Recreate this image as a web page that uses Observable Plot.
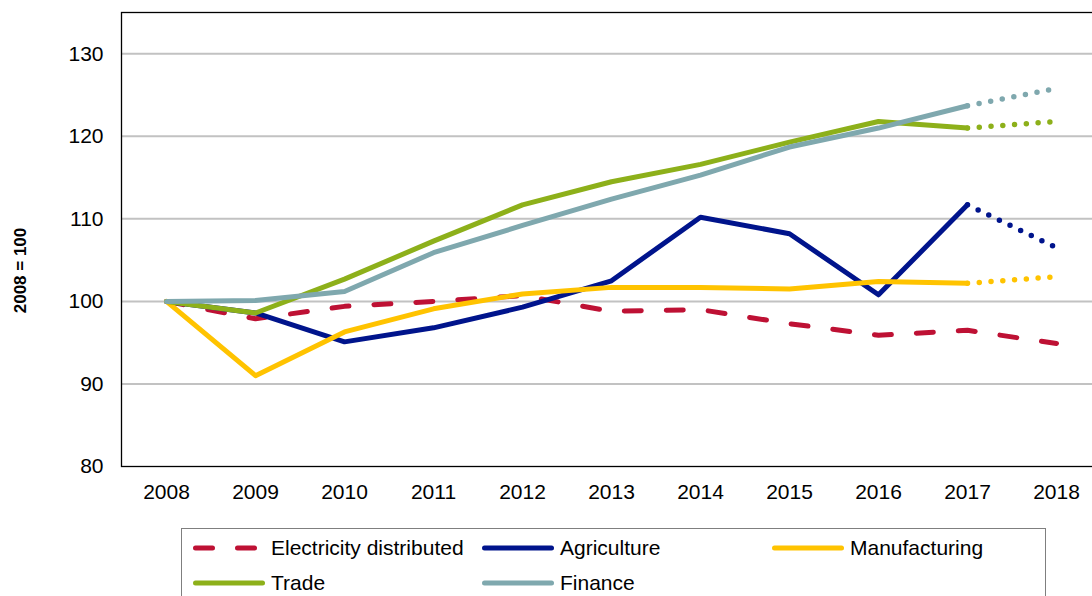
<!DOCTYPE html>
<html>
<head>
<meta charset="utf-8">
<script src="https://cdn.jsdelivr.net/npm/d3@7"></script>
<script src="https://cdn.jsdelivr.net/npm/@observablehq/plot@0.6"></script>
<style>
  html, body { margin: 0; padding: 0; background: #fff; overflow: hidden; }
  body { width: 1092px; height: 596px; position: relative; font-family: "Liberation Sans", Arial, sans-serif; }
  #legend { position: absolute; left: 181px; top: 528px; width: 865px; height: 90px;
            border: 1px solid #7f7f7f; box-sizing: border-box; padding: 1px 0 0 11px;
            display: grid; grid-template-columns: 289px 290px 260px; grid-auto-rows: 35px; }
  .item { display: flex; align-items: center; font-size: 21px; color: #000; white-space: nowrap; }
  .item svg { margin-right: 6px; flex: none; }
</style>
</head>
<body>
<div id="chart"></div>
<div id="legend"></div>
<script>
const years = [2008, 2009, 2010, 2011, 2012, 2013, 2014, 2015, 2016, 2017, 2018];
const lastActual = 2017;
const seriesNames = ["Electricity distributed", "Agriculture", "Manufacturing", "Trade", "Finance"];
const seriesColors = ["#BE1134", "#00148C", "#FFC300", "#8DB01A", "#7FA8AE"];
const electricity = [100, 97.9, 99.4, 100.0, 100.7, 98.8, 99.0, 97.3, 95.9, 96.5, 94.9];
const agriculture = [100, 98.6, 95.1, 96.8, 99.3, 102.5, 110.2, 108.2, 100.8, 111.7, 106.5];
const manufacturing = [100, 91.0, 96.3, 99.1, 100.9, 101.7, 101.7, 101.5, 102.4, 102.2, 103.0];
const trade = [100, 98.6, 102.7, 107.3, 111.7, 114.5, 116.6, 119.3, 121.8, 121.0, 121.8];
const finance = [100, 100.1, 101.2, 105.9, 109.2, 112.4, 115.3, 118.7, 121.0, 123.7, 125.8];
const yTicks = [80, 90, 100, 110, 120, 130];
const yTitle = "2008 = 100";

const valueArrays = [electricity, agriculture, manufacturing, trade, finance];
const rows = seriesNames.flatMap((name, s) =>
  years.map((year, i) => ({series: name, year, value: valueArrays[s][i]})));
const color = Object.fromEntries(seriesNames.map((n, i) => [n, seriesColors[i]]));

const marks = [
  Plot.gridY(yTicks.slice(1), {stroke: "#c2c2c2", strokeOpacity: 1, strokeWidth: 2})
];
// Electricity distributed: dashed across the whole period
marks.push(Plot.line(rows.filter(d => d.series === seriesNames[0]), {
  x: "year", y: "value", stroke: color[seriesNames[0]], strokeWidth: 5,
  strokeDasharray: "17,25", strokeLinecap: "round", strokeLinejoin: "round"
}));
for (const name of seriesNames.slice(1)) {
  const data = rows.filter(d => d.series === name);
  marks.push(Plot.line(data.filter(d => d.year <= lastActual), {
    x: "year", y: "value", stroke: color[name], strokeWidth: 5,
    strokeLinecap: "round", strokeLinejoin: "round"
  }));
  marks.push(Plot.line(data.filter(d => d.year >= lastActual), {
    x: "year", y: "value", stroke: color[name], strokeWidth: 5.5,
    strokeDasharray: "0,11.8", strokeDashoffset: -11.8, strokeLinecap: "round"
  }));
}
marks.push(Plot.frame({stroke: "#000", strokeWidth: 1.3}));
marks.push(Plot.axisY(yTicks, {tickSize: 0, tickPadding: 18, fontSize: 21, fill: "#000"}));
marks.push(Plot.axisX(years, {tickSize: 0, tickPadding: 18, fontSize: 21, fill: "#000", tickFormat: d => String(d)}));
marks.push(Plot.text([yTitle], {text: d => d, frameAnchor: "left", textAnchor: "middle", rotate: -90, dx: -101, dy: 31,
  fontWeight: "bold", fontSize: 17, fill: "#000"}));

const chart = Plot.plot({
  width: 1092,
  height: 520,
  marginLeft: 121,
  marginRight: -9,
  marginTop: 12,
  marginBottom: 54,
  style: {fontFamily: "'Liberation Sans', Arial, sans-serif", color: "#000", background: "#fff"},
  x: {type: "point", domain: years, padding: 0.5, label: null},
  y: {domain: [80, 135], label: null},
  marks
});
document.getElementById("chart").appendChild(chart);

// Legend
const legend = document.getElementById("legend");
const legendOrder = [0, 1, 2, 3, 4];
legendOrder.forEach(i => {
  const item = document.createElement("div");
  item.className = "item";
  const dashed = i === 0;
  item.innerHTML = `<svg width="72" height="10"><line x1="2.5" y1="5" x2="${dashed ? 66 : 69.5}" y2="5" stroke="${seriesColors[i]}" stroke-width="5" stroke-linecap="round" ${dashed ? 'stroke-dasharray="17,25"' : ''}/></svg><span>${seriesNames[i]}</span>`;
  legend.appendChild(item);
});
</script>
</body>
</html>
